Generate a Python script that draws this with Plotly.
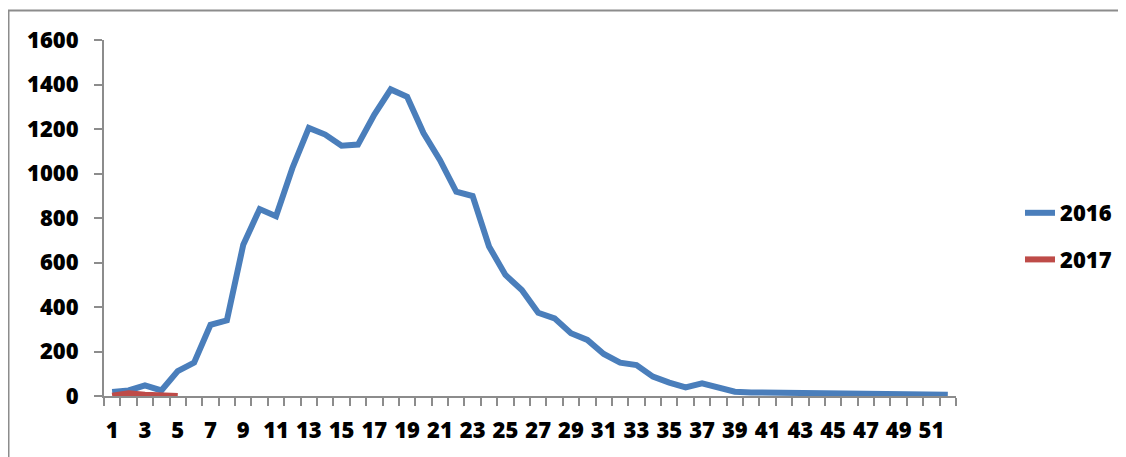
import plotly.graph_objects as go

weeks = list(range(1, 53))
cases_2016 = [18, 25, 48, 25, 112, 150, 320, 340, 680, 840, 808, 1025, 1205, 1175, 1125, 1130,
              1265, 1378, 1345, 1182, 1061, 918, 899, 672, 544, 476, 374, 349, 282, 252, 189, 150,
              139, 87, 60, 39, 57, 37, 19, 16, 15, 16, 17, 13, 11, 10, 9, 8, 9, 4, 6, 6]
weeks_2017 = [1, 2, 3, 4, 5]
cases_2017 = [1, 12, 6, 6, 0]
x_ticks = list(range(1, 53, 2))
y_ticks = [0, 200, 400, 600, 800, 1000, 1200, 1400, 1600]

FONT = "Open Sans"
FS = 22
WEIGHT = 800
OFF = 8  # page body margin offset
L, R, T, B = 104 - OFF, 956 - OFF, 40 - OFF, 396 - OFF
W, H = 1126 - OFF, 457 - OFF

fig = go.Figure()
fig.add_trace(go.Scatter(x=weeks, y=cases_2016, mode="lines", name="2016",
                         line=dict(color="#4A7EBB", width=6), legendgroup="a"))
fig.add_trace(go.Scatter(x=weeks_2017, y=cases_2017, mode="lines", name="2017",
                         line=dict(color="#BE4B48", width=6), legendgroup="b"))

pw = R - L
ph = B - T
def px(x):
    return (x - OFF - L) / pw
def py(y):
    return (B - (y - OFF)) / ph

fig.update_layout(
    width=W, height=H,
    margin=dict(l=L, r=W - R, t=T, b=H - B, pad=0, autoexpand=False),
    paper_bgcolor="white", plot_bgcolor="white",
    font=dict(family=FONT, size=FS, color="black", weight=WEIGHT),
    showlegend=True,
    legend=dict(x=px(1020), y=py(236.5), xanchor="left", yanchor="middle",
                traceorder="grouped", tracegroupgap=15,
                font=dict(family=FONT, size=FS, color="black", weight=WEIGHT),
                bgcolor="rgba(0,0,0,0)"),
    xaxis=dict(range=[0.5, 52.5], tickmode="array", tickvals=x_ticks,
               ticktext=[str(v) for v in x_ticks], ticks="", showgrid=False,
               zeroline=False, showline=True, linecolor="#8C8C8C", linewidth=2,
               ticklabelstandoff=14, automargin=False,
               minor=dict(tickmode="linear", tick0=0.5, dtick=1, ticks="outside",
                          ticklen=8, tickcolor="#8C8C8C", tickwidth=2, showgrid=False)),
    yaxis=dict(range=[0, 1600], tickmode="array", tickvals=y_ticks, ticks="outside",
               ticklen=8, tickcolor="#8C8C8C", tickwidth=2, showgrid=False,
               zeroline=False, showline=True, linecolor="#8C8C8C", linewidth=2,
               ticklabelstandoff=11, automargin=False),
    shapes=[
        dict(type="line", xref="paper", yref="paper", x0=px(8), x1=px(1130),
             y0=py(10.5), y1=py(10.5), line=dict(color="#8C8C8C", width=2)),
        dict(type="line", xref="paper", yref="paper", x0=px(8.5), x1=px(8.5),
             y0=py(10), y1=py(460), line=dict(color="#8C8C8C", width=2)),
    ],
)

fig.write_html("out.html")
